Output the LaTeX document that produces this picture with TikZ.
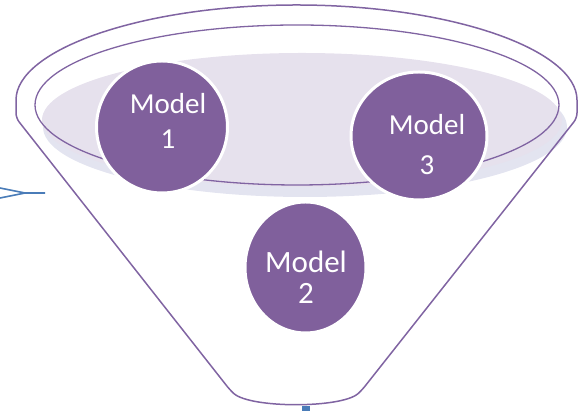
\documentclass[tikz,border=0pt]{standalone}
\usepackage{fontspec}
\setmainfont{Carlito}
\usetikzlibrary{positioning, shapes.geometric}
\definecolor{funnelpurple}{RGB}{128,100,162}
\definecolor{modelpurple}{RGB}{128,96,156}
\definecolor{discgray}{RGB}{230,225,237}
\definecolor{discshade}{RGB}{227,228,240}
\definecolor{flowblue}{RGB}{74,124,184}

\begin{document}
\begin{tikzpicture}[x=10pt, y=10pt,
      model/.style={ellipse, fill=modelpurple, draw=white, line width=3pt, inner sep=0pt},
      mtext/.style={text=white, align=center, font=\fontsize{29}{35}\selectfont},
      rim/.style={draw=funnelpurple, line width=1.5pt},
      flow/.style={flowblue, line width=1.6pt},
    ]
      \useasboundingbox (0,0) rectangle (58.7,41.1);
      % disc inside the funnel, with its shaded lower edge
      \fill[discshade] (30.5,28.4) ellipse[x radius=26.2, y radius=7.0];
      \fill[discgray] (30.2,29.1) ellipse[x radius=26.0, y radius=6.7];
      \draw[rim, line width=1.3pt] (29.7,30.6) ellipse[x radius=26.2, y radius=8.0];
      % funnel outline
      \draw[rim, rounded corners=5pt] (1.6,30.6) arc[start angle=180, end angle=0, x radius=28.05, y radius=10]
        -- (57.7,29.3) -- (36.2,2.1) .. controls (34.2,0.25) and (25.0,0.25) .. (23.0,2.1)
        -- (1.6,29.3) -- cycle;
      % models
      \node[model, minimum width=131pt, minimum height=132pt] (m1) at (16.2,28.4) {};
      \node[model, minimum width=136pt, minimum height=128pt] (m3) at (41.9,27.5) {};
      \node[model, minimum width=121pt, minimum height=131pt] (m2) at (30.55,14.35) {};
      \node[mtext] (t1) at (16.8,29.0) {Model\\1};
      \node[mtext, font=\fontsize{29}{40}\selectfont] (t3) at (42.7,26.6) {Model\\3};
      \node[mtext, font=\fontsize{31}{31}\selectfont] (t2) at (30.6,13.4) {Model\\2};
      % incoming and outgoing flow
      \coordinate (inA) at (0,22.3);
      \coordinate (inB) at (0,21.3);
      \coordinate (join) at (2.5,21.8);
      \coordinate (inEnd) at (4.5,21.8);
      \draw[flow] (inA) -- (join) -- (inEnd);
      \draw[flow] (inB) -- (join);
      \coordinate (spout) at (30.6,0.45);
      \draw[flowblue, line width=8pt] (spout) -- ++(0,-0.45);
    \end{tikzpicture}
\end{document}
